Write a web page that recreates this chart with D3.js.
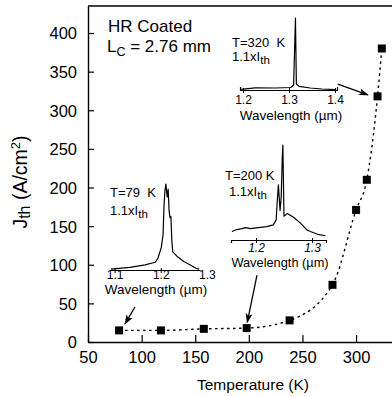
<!DOCTYPE html>
<html>
<head>
<meta charset="utf-8">
<script src="https://cdnjs.cloudflare.com/ajax/libs/d3/7.8.5/d3.min.js"></script>
<style>
  body { margin: 0; background: #fff; }
  svg { display: block; font-family: "Liberation Sans", Arial, Helvetica, sans-serif; }
</style>
</head>
<body>
<svg id="chart" width="392" height="396"></svg>
<script>
// threshold current density vs temperature
const temps = [79, 118, 158, 198, 238, 278, 300, 310, 320, 324];
const jth = [15, 15, 17, 18, 28, 74, 171, 210, 318, 380];
const xTicks = [50, 100, 150, 200, 250, 300];
const yTicks = [0, 50, 100, 150, 200, 250, 300, 350, 400];

// inset spectra: wavelength (um) and relative intensity
const wl79 = [1.092, 1.133, 1.166, 1.188, 1.194, 1.201, 1.205, 1.207, 1.209, 1.211, 1.214, 1.216, 1.218, 1.220, 1.222, 1.224, 1.226, 1.237, 1.250, 1.263, 1.276, 1.283];
const int79 = [0.01, 0.03, 0.06, 0.09, 0.14, 0.26, 0.41, 0.75, 0.92, 1.0, 0.85, 0.94, 0.69, 0.61, 0.62, 0.34, 0.21, 0.15, 0.10, 0.06, 0.02, 0.01];

const wl200 = [1.157, 1.166, 1.175, 1.181, 1.190, 1.204, 1.219, 1.231, 1.236, 1.238, 1.240, 1.243, 1.245, 1.247, 1.248, 1.250, 1.256, 1.267, 1.279, 1.291, 1.297, 1.310, 1.324];
const int200 = [0.09, 0.11, 0.12, 0.13, 0.12, 0.13, 0.14, 0.16, 0.21, 0.41, 0.58, 0.31, 0.45, 0.88, 1.0, 0.25, 0.28, 0.24, 0.18, 0.105, 0.09, 0.06, 0.045];

const wl320 = [1.196, 1.226, 1.270, 1.304, 1.310, 1.314, 1.316, 1.322, 1.346, 1.372, 1.400];
const int320 = [0.01, 0.03, 0.028, 0.035, 0.07, 1.0, 0.083, 0.05, 0.028, 0.014, 0.004];

// arrows (tail -> head) in data units of the main plot
const arrowTail = [[93.8, 45.3], [207.6, 86.7], [283, 334]];
const arrowHead = [[84.5, 23.5], [198.5, 25.5], [311, 320]];

const svg = d3.select("#chart");
const plotLeft = 88, plotRight = 392, plotTop = 6, plotBottom = 342;

const x = d3.scaleLinear().domain([50, 333.5]).range([plotLeft, plotRight]);
const y = d3.scaleLinear().domain([0, 435]).range([plotBottom, plotTop]);

// frame top line
svg.append("line")
  .attr("x1", plotLeft).attr("x2", plotRight)
  .attr("y1", plotTop).attr("y2", plotTop)
  .attr("stroke", "#000").attr("stroke-width", 1.3);

// X axis
const gx = svg.append("g")
  .attr("transform", "translate(0," + plotBottom + ")")
  .call(d3.axisBottom(x).tickValues(xTicks).tickSizeInner(-7).tickSizeOuter(0).tickPadding(9));
gx.attr("font-family", null).attr("font-size", 16.5);
gx.select(".domain").attr("stroke-width", 1.4);
gx.selectAll(".tick line").attr("stroke-width", 1.2);
gx.selectAll(".tick text").attr("fill", "#000");

// Y axis
const gy = svg.append("g")
  .attr("transform", "translate(" + plotLeft + ",0)")
  .call(d3.axisLeft(y).tickValues(yTicks).tickSizeInner(-6).tickSizeOuter(0).tickPadding(11));
gy.attr("font-family", null).attr("font-size", 16.5);
gy.select(".domain").attr("stroke-width", 1.4);
gy.selectAll(".tick line").attr("stroke-width", 1.2);
gy.selectAll(".tick text").attr("fill", "#000").attr("dy", "0.36em");

// axis titles
svg.append("text")
  .attr("x", 253).attr("y", 390)
  .attr("text-anchor", "middle")
  .attr("font-size", 15.5)
  .text("Temperature (K)");

const yt = svg.append("text")
  .attr("transform", "translate(27,182) rotate(-90)")
  .attr("text-anchor", "middle")
  .attr("font-size", 19.5);
yt.append("tspan").text("J");
yt.append("tspan").attr("font-size", 16).attr("dy", 3).text("th");
yt.append("tspan").attr("dy", -3).text(" (A/cm");
yt.append("tspan").attr("font-size", 13).attr("dy", -7).text("2");
yt.append("tspan").attr("dy", 7).text(")");

// notes
svg.append("text").attr("x", 108).attr("y", 32).attr("font-size", 17).text("HR Coated");
const lc = svg.append("text").attr("x", 107).attr("y", 52).attr("font-size", 17);
lc.append("tspan").text("L");
lc.append("tspan").attr("font-size", 12.5).attr("dy", 4).text("C");
lc.append("tspan").attr("dy", -4).text(" = 2.76 mm");

// dotted curve through the data
const pts = temps.map((t, i) => [t, jth[i]]);
svg.append("path")
  .datum(pts)
  .attr("fill", "none")
  .attr("stroke", "#000")
  .attr("stroke-width", 1.4)
  .attr("stroke-dasharray", "2.5,3.5")
  .attr("d", d3.line().x(d => x(d[0])).y(d => y(d[1])).curve(d3.curveMonotoneX));

// squares
const sq = 8;
svg.append("g").selectAll("rect")
  .data(pts)
  .enter()
  .append("rect")
  .attr("x", d => x(d[0]) - sq / 2)
  .attr("y", d => y(d[1]) - sq / 2)
  .attr("width", sq).attr("height", sq)
  .attr("fill", "#000");

// arrows
svg.append("defs").append("marker")
  .attr("id", "ah")
  .attr("viewBox", "0 0 10 8")
  .attr("refX", 9).attr("refY", 4)
  .attr("markerWidth", 10).attr("markerHeight", 8)
  .attr("markerUnits", "userSpaceOnUse")
  .attr("orient", "auto")
  .append("path")
  .attr("d", "M0,0.5 L10,4 L0,7.5 L2.5,4 Z")
  .attr("fill", "#000");

svg.append("g").selectAll("line")
  .data(arrowTail)
  .enter()
  .append("line")
  .attr("x1", d => x(d[0])).attr("y1", d => y(d[1]))
  .attr("x2", (d, i) => x(arrowHead[i][0])).attr("y2", (d, i) => y(arrowHead[i][1]))
  .attr("stroke", "#000").attr("stroke-width", 1.3)
  .attr("marker-end", "url(#ah)");

// inset spectra
const insets = [
  { wl: wl79, inten: int79, dom: [1.09, 1.285], px: [110, 200], base: 270, peak: 184,
    ticks: [1.1, 1.2, 1.3], outer: 0, labY: 9, italic: false, wlX: 156, wlY: 294, wlSize: 13.5,
    tx: 110, tY: 197, tLabel: "T=79  K", ix: 110, iY: 215 },
  { wl: wl200, inten: int200, dom: [1.1554, 1.325], px: [231, 326], base: 240, peak: 145,
    ticks: [1.2, 1.3], outer: 3, labY: 12, italic: true, wlX: 280, wlY: 267, wlSize: 12.8,
    tx: 225, tY: 180, tLabel: "T=200 K", ix: 229, iY: 196 },
  { wl: wl320, inten: int320, dom: [1.1935, 1.4043], px: [240, 337], base: 90, peak: 18,
    ticks: [1.2, 1.3, 1.4], outer: -3, labY: 14, italic: false, wlX: 291, wlY: 120, wlSize: 13.5,
    tx: 232, tY: 47, tLabel: "T=320  K", ix: 232, iY: 61 }
];

insets.forEach(c => {
  const xs = d3.scaleLinear().domain(c.dom).range(c.px);
  const ys = d3.scaleLinear().domain([0, 1]).range([c.base, c.peak]);
  const g = svg.append("g");

  const ax = g.append("g")
    .attr("transform", "translate(0," + c.base + ")")
    .call(d3.axisBottom(xs).tickValues(c.ticks).tickSizeInner(3).tickSizeOuter(c.outer).tickFormat(d3.format(".1f")));
  ax.attr("font-family", null).attr("font-size", 12);
  ax.select(".domain").attr("stroke-width", 1.2);
  ax.selectAll(".tick line")
    .attr("y1", -2)
    .attr("stroke-width", 1)
    .attr("opacity", d => (xs(d) > c.px[1] + 1 || xs(d) < c.px[0] - 1) ? 0 : 1);
  ax.selectAll(".tick text")
    .attr("y", c.labY).attr("dy", null)
    .attr("fill", "#000")
    .attr("font-style", c.italic ? "italic" : null);

  g.append("path")
    .datum(c.wl.map((w, i) => [w, c.inten[i]]))
    .attr("fill", "none")
    .attr("stroke", "#000")
    .attr("stroke-width", 1.2)
    .attr("stroke-linejoin", "round")
    .attr("d", d3.line().x(d => xs(d[0])).y(d => ys(d[1])));

  g.append("text")
    .attr("x", c.wlX).attr("y", c.wlY)
    .attr("text-anchor", "middle")
    .attr("font-size", c.wlSize)
    .text("Wavelength (\u00b5m)");

  g.append("text")
    .attr("x", c.tx).attr("y", c.tY)
    .attr("font-size", 13)
    .style("white-space", "pre")
    .text(c.tLabel);

  const it = g.append("text")
    .attr("x", c.ix).attr("y", c.iY)
    .attr("font-size", 13);
  it.append("tspan").text("1.1xI");
  it.append("tspan").attr("font-size", 11.5).attr("dy", 3).text("th");
});
</script>
</body>
</html>
